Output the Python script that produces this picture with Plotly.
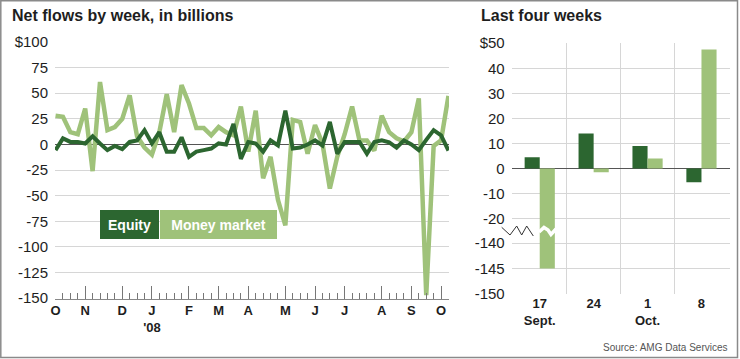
import plotly.graph_objects as go
import pandas as pd

W, H = 740, 359

# ---------------- data ----------------
weeks = pd.date_range("2007-10-03", periods=54, freq="7D")

equity = [-5.5, 6, 2.5, 2.5, 1, 8, 1, -5.5, -1.5, -4.5,
          2.5, 4, 14, 1, 12, -7, -7, 7, -12, -7,
          -5.5, -4, 1, 0, 20, -14, 2.5, 1, -7, 4,
          -1, 33, -4, -3, 0, 4, -1, 22, -9, 2.5,
          2.5, 2.5, -9, 2.5, 4, 2, -3, 4, 0, -5.5,
          4.5, 14, 9, -6]

money_market = [28, 27, 12, 10, 35, -26, 61, 14, 17, 25,
                48, 8, -3, -10, 12, 49, 12, 58, 40, 16,
                16, 9, 17, 12, 9, 37, -7, 33, -33, -12,
                -54, -79, 24, 22, -9, 19, 1, -43, -12, 10,
                37, 4, 4, -6, 28, 12, 6, 3, 12, 45,
                -147, -1.5, 4, 47.5]

month_ticks = ["2007-10-03", "2007-10-31", "2007-12-05", "2008-01-02", "2008-02-06",
               "2008-03-05", "2008-04-02", "2008-05-07", "2008-06-04", "2008-07-02",
               "2008-08-06", "2008-09-03", "2008-10-01"]
month_labels = ["O", "N", "D", "J<br>'08", "F", "M", "A", "M", "J", "J", "A", "S", "O"]

left_yticks = [100, 75, 50, 25, 0, -25, -50, -75, -100, -125, -150]
left_ylabels = ["$100", "75", "50", "25", "0", "-25", "-50", "-75", "-100", "-125", "-150"]

last4_labels = ["17<br>Sept.", "24", "1<br>Oct.", "8"]
last4_pos = [0, 1, 2, 3]
last4_equity = [4.5, 14, 9, -5.5]
last4_mm = [-145, -1.5, 4, 47.5]

top_yticks = [50, 40, 30, 20, 10, 0, -10, -20]
top_ylabels = ["$50", "40", "30", "20", "10", "0", "-10", "-20"]
bot_yticks = [-140, -145, -150]
bot_ylabels = ["-140", "-145", "-150"]

# ---------------- style ----------------
DARK = "#2c6630"
LIGHT = "#9fc27a"
GRID = "#d6d6d6"
ZERO = "#555555"
TXT = "#1e1e1e"
FONT = "Liberation Sans, Arial, Helvetica, sans-serif"

def px(x):
    return x / W

def py(y):
    return 1 - y / H

fig = go.Figure()

# left chart
fig.add_trace(go.Scatter(x=weeks, y=money_market, mode="lines",
                         line=dict(color=LIGHT, width=4.5), xaxis="x", yaxis="y",
                         showlegend=False, hoverinfo="skip"))
fig.add_trace(go.Scatter(x=weeks, y=equity, mode="lines",
                         line=dict(color=DARK, width=4), xaxis="x", yaxis="y",
                         showlegend=False, hoverinfo="skip"))

# right chart: top and bottom (broken axis)
for xa, ya in (("x2", "y2"), ("x3", "y3")):
    fig.add_trace(go.Bar(x=last4_pos, y=last4_equity, marker=dict(color=DARK, line=dict(width=0)),
                         xaxis=xa, yaxis=ya, showlegend=False, hoverinfo="skip"))
    fig.add_trace(go.Bar(x=last4_pos, y=last4_mm, marker=dict(color=LIGHT, line=dict(width=0)),
                         xaxis=xa, yaxis=ya, showlegend=False, hoverinfo="skip"))

left_dom_x = [px(55), px(449)]
right_dom_x = [px(511.7), px(729.5)]

fig.update_layout(
    width=W, height=H, autosize=False,
    margin=dict(l=0, r=0, t=0, b=0, pad=0),
    paper_bgcolor="white", plot_bgcolor="white",
    font=dict(family=FONT, color=TXT),
    barmode="group", bargap=0.44, bargroupgap=0,
    xaxis=dict(domain=left_dom_x, anchor="y", type="date",
               range=["2007-10-02 12:00", "2008-10-08 12:00"],
               tickmode="array", tickvals=month_ticks,
               ticktext=["<b>%s</b>" % t for t in month_labels],
               tickfont=dict(size=13, color=TXT),
               ticks="inside", ticklen=13, tickwidth=1, tickcolor="#777",
               minor=dict(tickmode="linear", tick0="2007-10-03", dtick=7 * 86400000,
                          ticks="inside", ticklen=6, tickwidth=1, tickcolor="#777",
                          showgrid=False),
               showline=True, linecolor="#888", linewidth=1,
               showgrid=False, zeroline=False, automargin=False),
    yaxis=dict(domain=[py(298.5), py(41.7)], anchor="x",
               range=[-150.3, 100.3], tickmode="array", tickvals=left_yticks,
               ticktext=left_ylabels, tickfont=dict(size=15, color=TXT),
               ticks="", ticklabelstandoff=6,
               showgrid=True, gridcolor=GRID, gridwidth=1,
               zeroline=True, zerolinecolor=ZERO, zerolinewidth=1,
               showline=False, automargin=False),
    xaxis2=dict(domain=right_dom_x, anchor="y2", range=[-0.52, 3.52],
                showticklabels=False, ticks="", showgrid=False, zeroline=False,
                minor=dict(tickmode="array", tickvals=[0.5, 1.5, 2.5], showgrid=True,
                           gridcolor=GRID, gridwidth=1, ticks=""),
                automargin=False),
    yaxis2=dict(domain=[py(231.1), py(42.7)], anchor="x2", range=[-25, 50.2],
                tickmode="array", tickvals=top_yticks, ticktext=top_ylabels,
                tickfont=dict(size=15, color=TXT), ticks="", ticklabelstandoff=6,
                showgrid=True, gridcolor=GRID, gridwidth=1,
                zeroline=True, zerolinecolor=ZERO, zerolinewidth=1,
                showline=False, automargin=False),
    xaxis3=dict(domain=right_dom_x, anchor="y3", range=[-0.52, 3.52],
                tickmode="array", tickvals=last4_pos,
                ticktext=["<b>%s</b>" % t for t in last4_labels],
                tickfont=dict(size=13, color=TXT), ticks="", showgrid=False, zeroline=False,
                minor=dict(tickmode="array", tickvals=[0.5, 1.5, 2.5], showgrid=True,
                           gridcolor=GRID, gridwidth=1, ticks=""),
                showline=False, automargin=False),
    yaxis3=dict(domain=[py(294.3), py(231.1)], anchor="x3", range=[-150.1, -137.6],
                tickmode="array", tickvals=bot_yticks, ticktext=bot_ylabels,
                tickfont=dict(size=15, color=TXT), ticks="", ticklabelstandoff=6,
                showgrid=True, gridcolor=GRID, gridwidth=1, zeroline=False,
                showline=False, automargin=False),
)

annotations = [
    dict(text="<b>Net flows by week, in billions</b>", x=px(10), y=py(15),
         xanchor="left", yanchor="middle", font=dict(size=16, color=TXT)),
    dict(text="<b>Last four weeks</b>", x=px(479), y=py(15),
         xanchor="left", yanchor="middle", font=dict(size=16, color=TXT)),
    dict(text="<b>Equity</b>", x=px(129.5), y=py(224), xanchor="center", yanchor="middle",
         bgcolor=DARK, width=59, height=29, borderpad=0, borderwidth=0,
         font=dict(size=14, color="white")),
    dict(text="<b>Money market</b>", x=px(218.5), y=py(224), xanchor="center", yanchor="middle",
         bgcolor=LIGHT, width=117, height=29, borderpad=0, borderwidth=0,
         font=dict(size=14, color="white")),
    dict(text="Source: AMG Data Services", x=px(730), y=py(347), xanchor="right",
         yanchor="middle", font=dict(size=10, color="#555")),
]
for a in annotations:
    a.update(xref="paper", yref="paper", showarrow=False)
fig.update_layout(annotations=annotations)

# zigzag break marker and white cut across the broken bar
zig = [(501.7, 227.3), (510, 235), (516.7, 226), (521.7, 235), (526.7, 226), (533.3, 236)]
zpath = "M " + " L ".join("%.5f,%.5f" % (px(a), py(b)) for a, b in zig)
cut = [(539, 232), (544, 227.5), (548, 230), (551, 234.5), (556, 229)]
cpath = "M " + " L ".join("%.5f,%.5f" % (px(a), py(b)) for a, b in cut)
shapes = [
    dict(type="path", path=cpath, xref="paper", yref="paper", line=dict(color="white", width=3.5)),
    dict(type="path", path=zpath, xref="paper", yref="paper", line=dict(color="#333", width=1)),
    dict(type="rect", xref="paper", yref="paper", x0=px(0.8), x1=px(737.5), y0=py(357.5), y1=py(0.8),
         line=dict(color="#8a8a8a", width=1.5)),
]
fig.update_layout(shapes=shapes)

fig.write_html("out.html", config={"displayModeBar": False},
               post_script="document.body.style.margin='0';")
